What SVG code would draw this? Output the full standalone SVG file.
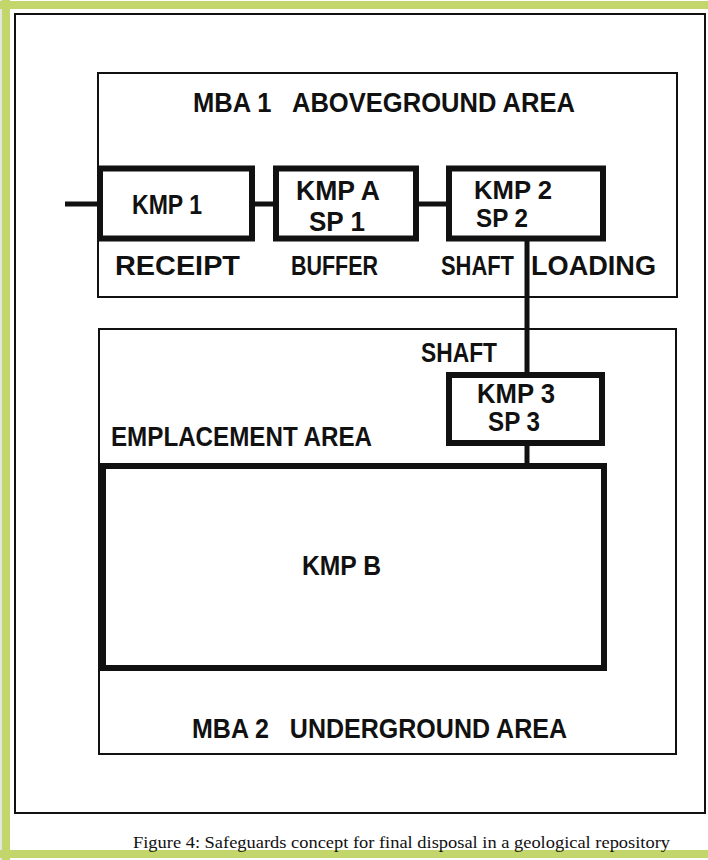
<svg xmlns="http://www.w3.org/2000/svg" width="708" height="860" viewBox="0 0 708 860">
<style>
.lbl{font-family:"Liberation Sans",Arial,sans-serif;font-weight:bold;font-size:27px;fill:#111}
.sm{font-size:25px}
.area{fill:#fff;stroke:#111;stroke-width:2}
.kmp{fill:#fff;stroke:#111;stroke-width:6}
.con{stroke:#111;stroke-width:5;fill:none}
.cap{font-family:"Liberation Serif","Times New Roman",serif;font-size:17px;fill:#111}
</style>
<rect x="0" y="0" width="708" height="860" fill="#fff"/>
<g id="frame">
<rect x="0" y="0" width="2" height="860" fill="#e4e6e0"/>
<rect x="2" y="0" width="8" height="860" fill="#c2d66b"/>
<rect x="0" y="1" width="708" height="8" fill="#c2d66b"/>
<rect x="0" y="850" width="708" height="8" fill="#c2d66b"/>
<rect x="15" y="14" width="690" height="799" fill="#fff" stroke="#111" stroke-width="2"/>
</g>
<g id="mba1">
<rect class="area" x="98" y="73" width="579" height="224"/>
<text class="lbl" x="193" y="112" textLength="382" lengthAdjust="spacingAndGlyphs" xml:space="preserve">MBA 1   ABOVEGROUND AREA</text>
<text class="lbl" x="115" y="275" textLength="125" lengthAdjust="spacingAndGlyphs">RECEIPT</text>
<text class="lbl" x="291" y="275" textLength="87" lengthAdjust="spacingAndGlyphs">BUFFER</text>
<text class="lbl" x="441" y="275" textLength="73" lengthAdjust="spacingAndGlyphs">SHAFT</text>
<text class="lbl" x="531" y="275" textLength="125" lengthAdjust="spacingAndGlyphs">LOADING</text>
</g>
<g id="mba2">
<rect class="area" x="99" y="329" width="577" height="425"/>
<text class="lbl" x="421" y="362" textLength="76" lengthAdjust="spacingAndGlyphs">SHAFT</text>
<text class="lbl" x="111" y="446" textLength="261" lengthAdjust="spacingAndGlyphs">EMPLACEMENT AREA</text>
<text class="lbl" x="192" y="738" textLength="375" lengthAdjust="spacingAndGlyphs" xml:space="preserve">MBA 2   UNDERGROUND AREA</text>
</g>
<g id="connectors">
<line class="con" x1="65" y1="204" x2="100" y2="204"/>
<line class="con" x1="252" y1="204" x2="276" y2="204"/>
<line class="con" x1="416" y1="204" x2="449" y2="204"/>
<line class="con" x1="527" y1="238" x2="527" y2="375" stroke-width="4"/>
<line class="con" x1="527" y1="443" x2="527" y2="466" stroke-width="4"/>
</g>
<g id="kmp1">
<rect class="kmp" x="100" y="168.5" width="152" height="70"/>
<text class="lbl" x="132" y="214" textLength="70" lengthAdjust="spacingAndGlyphs">KMP 1</text>
</g>
<g id="kmpA">
<rect class="kmp" x="276" y="168.5" width="140" height="70"/>
<text class="lbl" x="296" y="200" textLength="84" lengthAdjust="spacingAndGlyphs">KMP A</text>
<text class="lbl" x="309" y="231" textLength="56" lengthAdjust="spacingAndGlyphs">SP 1</text>
</g>
<g id="kmp2">
<rect class="kmp" x="449" y="168.5" width="154" height="70"/>
<text class="lbl sm" x="474" y="199" textLength="78" lengthAdjust="spacingAndGlyphs">KMP 2</text>
<text class="lbl sm" x="476" y="227" textLength="52" lengthAdjust="spacingAndGlyphs">SP 2</text>
</g>
<g id="kmp3">
<rect class="kmp" x="449" y="375" width="153" height="68"/>
<text class="lbl" x="477" y="403" textLength="78" lengthAdjust="spacingAndGlyphs">KMP 3</text>
<text class="lbl" x="488" y="431" textLength="52" lengthAdjust="spacingAndGlyphs">SP 3</text>
</g>
<g id="kmpB">
<rect class="kmp" x="103" y="466" width="501" height="202"/>
<text class="lbl" x="302" y="575" textLength="79" lengthAdjust="spacingAndGlyphs">KMP B</text>
</g>
<g id="caption">
<text class="cap" x="133" y="848" textLength="537" lengthAdjust="spacingAndGlyphs">Figure 4: Safeguards concept for final disposal in a geological repository</text>
</g>
</svg>
